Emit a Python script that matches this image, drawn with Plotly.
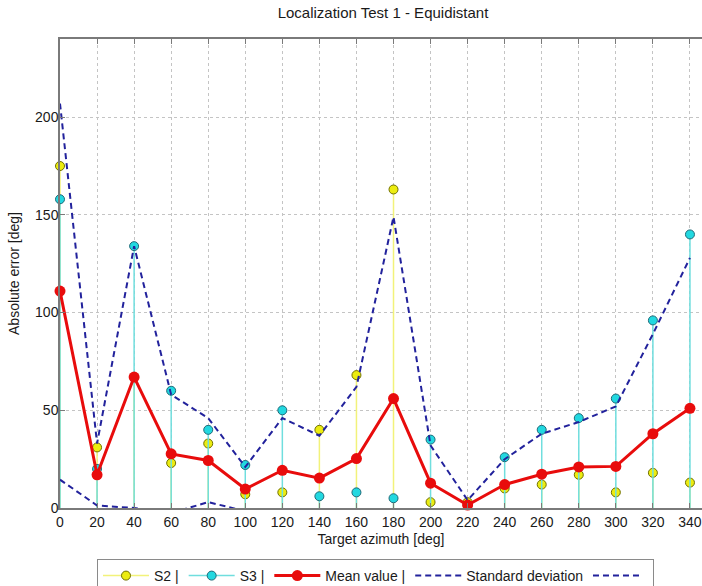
import plotly.graph_objects as go

# ---- data ----
azimuth = [0, 20, 40, 60, 80, 100, 120, 140, 160, 180, 200, 220, 240, 260, 280, 300, 320, 340]
s2_err = [175, 31, 67, 23, 33, 7, 8, 40, 68, 163, 3, 3, 10, 12, 17, 8, 18, 13]
s3_err = [158, 20, 134, 60, 40, 22, 50, 6, 8, 5, 35, 1.5, 26, 40, 46, 56, 96, 140]
mean_err = [111, 17, 67, 27.7, 24.3, 9.7, 19.3, 15.3, 25.3, 56, 12.7, 1.5, 12, 17.3, 21, 21.3, 38, 51]
std_upper = [207, 33, 134, 58, 46, 21, 46, 37, 62, 149, 32, 4, 25, 38, 44, 52, 89, 128]
std_lower = [14.5, 1.3, 0, -2.6, 3, -1.6, -7.5, -6.2, -11.9, -36.7, -6.7, -0.5, -1.1, -3.2, -2.3, -9, -13, -26.3]
x_ticks = list(range(0, 341, 20))
y_ticks = [0, 50, 100, 150, 200]

FONT = "Arial, 'Liberation Sans', sans-serif"
YEL_STEM = "#f2f27a"
YEL_FILL = "#ecec10"
YEL_EDGE = "#707000"
CYA_STEM = "#70dede"
CYA_FILL = "#22d8e0"
CYA_EDGE = "#206a78"
RED = "#e80c0c"
BLUE = "#22229c"


def stems(xs, ys):
    sx, sy = [], []
    for a, v in zip(xs, ys):
        sx += [a, a, None]
        sy += [0, v, None]
    return sx, sy


fig = go.Figure()

for vals, stem_c, fill_c, edge_c, name, grp in [
    (s2_err, YEL_STEM, YEL_FILL, YEL_EDGE, "S2 |", "s2"),
    (s3_err, CYA_STEM, CYA_FILL, CYA_EDGE, "S3 |", "s3"),
]:
    sx, sy = stems(azimuth, vals)
    fig.add_trace(go.Scatter(x=sx, y=sy, mode="lines", line=dict(color=stem_c, width=1.5),
                             showlegend=False, legendgroup=grp, hoverinfo="skip"))
    fig.add_trace(go.Scatter(x=azimuth, y=vals, mode="markers", cliponaxis=False,
                             marker=dict(size=9, color=fill_c, line=dict(color=edge_c, width=1)),
                             showlegend=False, legendgroup=grp))
    fig.add_trace(go.Scatter(x=[None], y=[None], mode="lines+markers", name=name, legendgroup=grp,
                             line=dict(color=stem_c, width=1.5),
                             marker=dict(size=9, color=fill_c, line=dict(color=edge_c, width=1))))

fig.add_trace(go.Scatter(x=azimuth, y=mean_err, mode="lines+markers", name="Mean value |",
                         cliponaxis=False,
                         line=dict(color=RED, width=3),
                         marker=dict(size=11, color=RED)))

fig.add_trace(go.Scatter(x=azimuth, y=std_upper, mode="lines", name="Standard deviation",
                         line=dict(color=BLUE, width=2, dash="6px,4px")))
fig.add_trace(go.Scatter(x=azimuth, y=std_lower, mode="lines", name=" ",
                         line=dict(color=BLUE, width=2, dash="6px,4px")))

fig.update_layout(
    width=702, height=586,
    margin=dict(l=60, r=0, t=39, b=78, autoexpand=False),
    paper_bgcolor="white", plot_bgcolor="white",
    font=dict(family=FONT, size=14, color="#1a1a1a"),
    title=dict(text="Localization Test 1 - Equidistant", x=383 / 702, xanchor="center",
               y=1 - 13 / 586, yanchor="middle", font=dict(size=15, color="#1a1a1a")),
    showlegend=True,
    legend=dict(orientation="h", x=(97 - 60) / 642, xanchor="left",
                y=(508 - 559) / 469, yanchor="top",
                bordercolor="#8a8a8a", borderwidth=1, bgcolor="white",
                font=dict(size=14, color="#1a1a1a"), itemwidth=46,
                traceorder="normal"),
    xaxis=dict(range=[0, 346.5], tickvals=x_ticks, ticktext=[str(v) for v in x_ticks],
               showgrid=True, gridcolor="#c4c4c4", griddash="dot", gridwidth=1,
               zeroline=False, showline=True, linecolor="#7a7a7a", linewidth=1.5,
               mirror="ticks", ticks="inside", ticklen=5, tickcolor="#7a7a7a",
               tickfont=dict(size=14, color="#1a1a1a"),
               title=dict(text="Target azimuth [deg]", standoff=6, font=dict(size=14))),
    yaxis=dict(range=[0, 240], tickvals=y_ticks,
               showgrid=True, gridcolor="#c4c4c4", griddash="dot", gridwidth=1,
               zeroline=False, showline=True, linecolor="#7a7a7a", linewidth=1.5,
               ticks="inside", ticklen=5, tickcolor="#7a7a7a", ticklabelstandoff=-3,
               tickfont=dict(size=14, color="#1a1a1a"),
               title=dict(text="Absolute error [deg]", standoff=12, font=dict(size=14))),
)

fig.write_html("out.html")
